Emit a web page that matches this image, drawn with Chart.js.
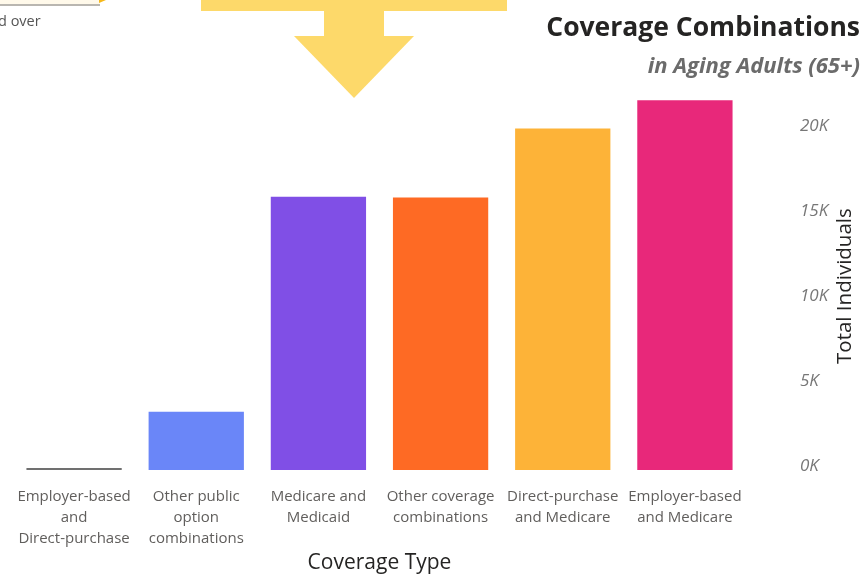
<!DOCTYPE html>
<html>
<head>
<meta charset="utf-8">
<title>Coverage Combinations</title>
<script src="https://cdn.jsdelivr.net/npm/chart.js@4.4.1/dist/chart.umd.min.js"></script>
<style>
    body { margin: 0; background: #ffffff; }
    .chart-box { position: relative; width: 867px; height: 576px; }
</style>
</head>
<body>
<div class="chart-box">
    <canvas id="coverageChart"></canvas>
</div>
<script>
// ==================== DATOS ====================
const coverageTypes = [
    ['Employer-based', 'and', 'Direct-purchase'],
    ['Other public', 'option', 'combinations'],
    ['Medicare and', 'Medicaid'],
    ['Other coverage', 'combinations'],
    ['Direct-purchase', 'and Medicare'],
    ['Employer-based', 'and Medicare']
];
const totalIndividuals = [120, 3430, 16080, 16040, 20100, 21760];
const barColors = ['#707070', '#6A86F8', '#804FE6', '#FE6A24', '#FDB338', '#E8287A'];
const yTickValues = [0, 5000, 10000, 15000, 20000];

const FONT = "'Segoe UI', 'Open Sans', sans-serif";
Chart.defaults.font.family = FONT;

// --- Decoración: flecha amarilla, recorte de la caja superior y título del eje Y ---
const decorations = {
    id: 'decorations',
    beforeDraw(chart) {
        const ctx = chart.ctx;
        ctx.save();
        // caja recortada arriba a la izquierda
        ctx.fillStyle = '#FFF9EA';
        ctx.fillRect(0, 0, 100, 5);
        ctx.fillStyle = '#B9B6B0';
        ctx.fillRect(0, 4, 100, 2);
        ctx.fillStyle = '#F6B81A';
        ctx.beginPath();
        ctx.moveTo(99, 0); ctx.lineTo(106, 0); ctx.lineTo(99, 3);
        ctx.fill();
        ctx.fillStyle = '#555555';
        ctx.font = '14.5px ' + FONT;
        ctx.textBaseline = 'middle';
        ctx.fillText('d over', -2, 22);

        // flecha
        ctx.fillStyle = '#FDD96A';
        ctx.fillRect(201, 0, 306, 11);
        ctx.fillRect(324, 11, 60, 26);
        ctx.beginPath();
        ctx.moveTo(294, 36); ctx.lineTo(414, 36); ctx.lineTo(354, 98);
        ctx.closePath();
        ctx.fill();
        ctx.restore();
    },
    afterDraw(chart) {
        // título del eje Y, leído de abajo hacia arriba
        const ctx = chart.ctx;
        const area = chart.chartArea;
        ctx.save();
        ctx.translate(845, (area.top + area.bottom) / 2 + 3);
        ctx.rotate(-Math.PI / 2);
        ctx.fillStyle = '#252423';
        ctx.font = '20.5px ' + FONT;
        ctx.textAlign = 'center';
        ctx.textBaseline = 'middle';
        ctx.fillText('Total Individuals', 0, 0);
        ctx.restore();
    }
};

new Chart(document.getElementById('coverageChart'), {
    type: 'bar',
    data: {
        labels: coverageTypes,
        datasets: [{
            data: totalIndividuals,
            backgroundColor: barColors,
            borderWidth: 0,
            barPercentage: 0.78,
            categoryPercentage: 1
        }]
    },
    options: {
        responsive: true,
        maintainAspectRatio: false,
        animation: false,
        layout: { padding: { left: 13, right: 7, top: 0, bottom: 0 } },
        plugins: {
            legend: { display: false },
            tooltip: { enabled: false },
            title: {
                display: true,
                text: 'Coverage Combinations',
                align: 'end',
                color: '#252423',
                font: { size: 26.5, weight: 'bold', lineHeight: 1.2 },
                padding: { top: 13, bottom: 4 }
            },
            subtitle: {
                display: true,
                text: 'in Aging Adults (65+)',
                align: 'end',
                color: '#6B6B6B',
                font: { size: 22, weight: 'bold', style: 'italic', lineHeight: 1.2 },
                padding: { top: 5, bottom: 16 }
            }
        },
        scales: {
            x: {
                grid: { display: false },
                border: { display: false },
                afterFit(scale) {
                    scale.height = 106;
                },
                ticks: {
                    color: '#605E5C',
                    font: { size: 15, lineHeight: 1.4 },
                    padding: 8,
                    maxRotation: 0,
                    autoSkip: false
                },
                title: {
                    display: true,
                    text: 'Coverage Type',
                    color: '#252423',
                    font: { size: 21, lineHeight: 1.2 },
                    padding: { top: 3, bottom: 0 }
                }
            },
            y: {
                position: 'right',
                min: 0,
                max: 22000,
                grid: { display: false },
                border: { display: false },
                afterBuildTicks(scale) {
                    scale.ticks = yTickValues.map(v => ({ value: v }));
                },
                afterFit(scale) {
                    scale.width = 114;
                },
                ticks: {
                    color: '#777777',
                    font: { size: 17, style: 'italic' },
                    padding: 46,
                    labelOffset: -4,
                    callback: v => (v / 1000) + 'K'
                }
            }
        }
    },
    plugins: [decorations]
});
</script>
</body>
</html>
